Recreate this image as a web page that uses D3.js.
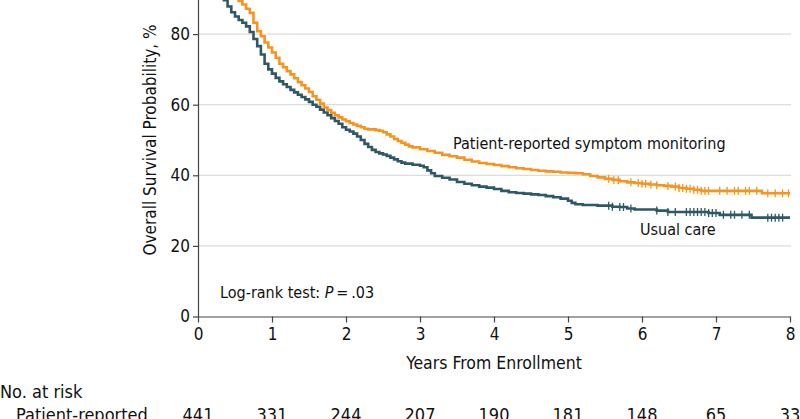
<!DOCTYPE html>
<html><head><meta charset="utf-8">
<script src="https://cdn.jsdelivr.net/npm/d3@7"></script>
<style>
html,body{margin:0;padding:0;background:#fff;}
svg{display:block;font-family:"DejaVu Sans Condensed","Liberation Sans Narrow",sans-serif;}
</style></head>
<body><svg id="c" width="800" height="419"></svg>
<script>
// ---- data ----
const prTimes = [0,0.05,0.1,0.15,0.2,0.25,0.3,0.35,0.4,0.45,0.5,0.55,0.6,0.65,0.7,0.75,0.8,0.85,0.9,0.95,1.0,1.05,1.1,1.15,1.2,1.25,1.3,1.35,1.4,1.45,1.5,1.55,1.6,1.65,1.7,1.75,1.8,1.85,1.9,1.95,2.0,2.05,2.1,2.15,2.2,2.25,2.3,2.4,2.45,2.5,2.55,2.6,2.65,2.7,2.75,2.8,2.85,2.9,3.0,3.1,3.2,3.3,3.4,3.5,3.6,3.7,3.8,3.9,4.0,4.1,4.2,4.3,4.4,4.5,4.6,4.7,4.8,4.9,5.0,5.1,5.2,5.3,5.4,5.5,5.6,5.7,5.8,5.9,6.0,6.1,6.2,6.3,6.4,6.5,6.6,6.7,6.8,7.62,8.0];
const prSurv  = [100,99.3,98.6,97.6,96.6,95.4,94.3,93.2,92.2,91.2,90.4,89.4,88.4,87.2,86,83.2,80.8,79.4,77.6,76.2,74.8,73.3,71.6,70.6,69.5,68.6,67.5,66.4,65.5,64.6,63.6,62.4,61.4,60.3,59.2,58.5,57.7,57.0,56.4,55.8,55.3,54.8,54.4,54.0,53.6,53.2,53.0,52.8,52.6,52.2,51.6,51.0,50.3,49.7,49.2,48.7,48.2,47.9,47.4,46.9,46.4,45.8,45.4,45.0,44.4,43.9,43.5,43.2,42.9,42.6,42.3,42.0,41.8,41.5,41.3,41.1,41.0,40.8,40.7,40.6,40.3,39.8,39.4,39.0,38.7,38.3,38.0,37.8,37.6,37.4,37.2,37.0,36.8,36.4,36.2,35.9,35.6,34.9,34.9];
const ucTimes = [0,0.05,0.1,0.15,0.2,0.25,0.3,0.35,0.4,0.45,0.5,0.55,0.6,0.65,0.7,0.75,0.8,0.85,0.9,0.95,1.0,1.05,1.1,1.15,1.2,1.25,1.3,1.35,1.4,1.45,1.5,1.55,1.6,1.65,1.7,1.75,1.8,1.85,1.9,1.95,2.0,2.05,2.1,2.15,2.2,2.25,2.3,2.35,2.4,2.45,2.5,2.55,2.6,2.65,2.7,2.75,2.8,2.9,3.0,3.05,3.1,3.15,3.2,3.3,3.4,3.5,3.6,3.7,3.8,3.9,4.0,4.1,4.2,4.3,4.4,4.5,4.6,4.7,4.8,4.9,5.0,5.05,5.1,5.2,5.4,5.6,5.7,5.8,5.9,6.2,6.35,6.9,7.05,7.48,8.0];
const ucSurv  = [100,99,97.8,96.4,94.8,93.2,91.4,89.6,87.8,86.2,85.0,84.0,83.2,82.2,80.6,78.6,76.6,74.2,71.6,70.0,68.8,67.6,66.6,65.8,65.0,64.2,63.5,62.8,62.2,61.5,60.8,60.0,59.4,58.6,57.8,57.0,56.2,55.4,54.6,53.6,52.9,52.4,51.8,51.0,50.0,48.9,48.0,47.2,46.6,46.2,45.9,45.5,45.0,44.5,44.0,43.6,43.3,43.0,42.7,42.3,41.4,40.6,39.8,39.3,38.8,38.1,37.6,37.2,36.8,36.5,36.1,35.6,35.2,35.0,34.8,34.6,34.4,34.1,33.8,33.4,32.8,32.2,31.8,31.6,31.4,31.1,31.0,30.6,30.3,30.0,29.6,29.3,28.8,28.0,28.0];
const prCensor = [5.55,5.62,5.68,5.85,5.95,6.0,6.05,6.12,6.2,6.35,6.45,6.5,6.55,6.6,6.65,6.7,6.75,6.8,6.85,6.9,7.05,7.15,7.25,7.3,7.4,7.45,7.55,7.7,7.8,7.9,7.98];
const ucCensor = [5.55,5.6,5.7,5.75,5.85,6.2,6.35,6.45,6.6,6.65,6.7,6.75,6.8,6.85,6.9,6.95,7.0,7.1,7.2,7.25,7.35,7.45,7.7,7.75,7.8,7.85,7.9];
const xTicks = [0,1,2,3,4,5,6,7,8];
const yTicks = [0,20,40,60,80,100];
const atRiskLabels = ["Patient-reported"];
const atRiskPR = [441,331,244,207,190,181,148,65,33];
const seriesNames = ["Patient-reported symptom monitoring","Usual care"];
const colors = {pr:"#f7941d", uc:"#2e5865"};

// ---- drawing ----
const svg = d3.select("#c");
const x = d3.scaleLinear().domain([0,8]).range([198,790]);
const y = d3.scaleLinear().domain([0,100]).range([316.5,-36.5]);

svg.append("g").selectAll("line").data(yTicks.filter(d=>d>0)).join("line")
  .attr("x1",x(0)).attr("x2",x(8)+1).attr("y1",d=>y(d)).attr("y2",d=>y(d))
  .attr("stroke","#dcdcdc").attr("stroke-width",1.3);

const xAxis = svg.append("g").attr("transform",`translate(0,${y(0)})`)
  .call(d3.axisBottom(x).tickValues(xTicks).tickSize(6).tickPadding(5).tickSizeOuter(0));
const yAxis = svg.append("g").attr("transform",`translate(${x(0)},0)`)
  .call(d3.axisLeft(y).tickValues(yTicks).tickSize(5).tickPadding(3).tickSizeOuter(0));
[xAxis,yAxis].forEach(g=>{
  g.select(".domain").attr("stroke","#444").attr("stroke-width",1.2);
  g.selectAll(".tick line").attr("stroke","#444").attr("stroke-width",1.2);
  g.selectAll(".tick text").attr("fill","#111").style("font-size","17px")
   .style("font-family","'DejaVu Sans Condensed',sans-serif");
});

const line = d3.line().x(d=>x(d[0])).y(d=>y(d[1])).curve(d3.curveStepAfter);
const prData = prTimes.map((t,i)=>[t,prSurv[i]]);
const ucData = ucTimes.map((t,i)=>[t,ucSurv[i]]);
svg.append("path").datum(ucData).attr("d",line).attr("fill","none")
  .attr("stroke",colors.uc).attr("stroke-width",2.6);
svg.append("path").datum(prData).attr("d",line).attr("fill","none")
  .attr("stroke",colors.pr).attr("stroke-width",2.6);

function survAt(times,surv,t){let v=surv[0];for(let i=0;i<times.length;i++){if(times[i]<=t)v=surv[i];}return v;}
svg.append("g").selectAll("line").data(prCensor).join("line")
  .attr("x1",d=>x(d)).attr("x2",d=>x(d))
  .attr("y1",d=>y(survAt(prTimes,prSurv,d))-4).attr("y2",d=>y(survAt(prTimes,prSurv,d))+4)
  .attr("stroke",colors.pr).attr("stroke-width",1.3);
svg.append("g").selectAll("line").data(ucCensor).join("line")
  .attr("x1",d=>x(d)).attr("x2",d=>x(d))
  .attr("y1",d=>y(survAt(ucTimes,ucSurv,d))-4).attr("y2",d=>y(survAt(ucTimes,ucSurv,d))+4)
  .attr("stroke",colors.uc).attr("stroke-width",1.3);

svg.append("text").attr("x",453).attr("y",149).attr("font-size",16).attr("fill","#111").text(seriesNames[0]);
svg.append("text").attr("x",640).attr("y",235).attr("font-size",16).attr("fill","#111").text(seriesNames[1]);
const lr = svg.append("text").attr("x",220).attr("y",298).attr("font-size",16).attr("fill","#111");
lr.append("tspan").text("Log-rank test: ");
lr.append("tspan").attr("font-style","italic").text("P");
lr.append("tspan").text("\u2009=\u2009.03");

svg.append("text").attr("x",x(4)).attr("y",369).attr("text-anchor","middle").attr("font-size",17.5).attr("fill","#111").text("Years From Enrollment");
svg.append("text").attr("transform",`translate(156,${(y(0)+y(100))/2}) rotate(-90)`)
  .attr("text-anchor","middle").attr("font-size",17).attr("fill","#111").text("Overall Survival Probability, %");

svg.append("text").attr("x",0).attr("y",398).attr("font-size",18).attr("fill","#111").text("No. at risk");
svg.append("text").attr("x",16).attr("y",421).attr("font-size",18).attr("fill","#111").text(atRiskLabels[0]);
svg.append("g").selectAll("text").data(atRiskPR).join("text")
  .attr("x",(d,i)=>x(xTicks[i])).attr("y",421).attr("text-anchor","middle")
  .attr("font-size",18).attr("fill","#111").text(d=>d);
</script></body></html>
